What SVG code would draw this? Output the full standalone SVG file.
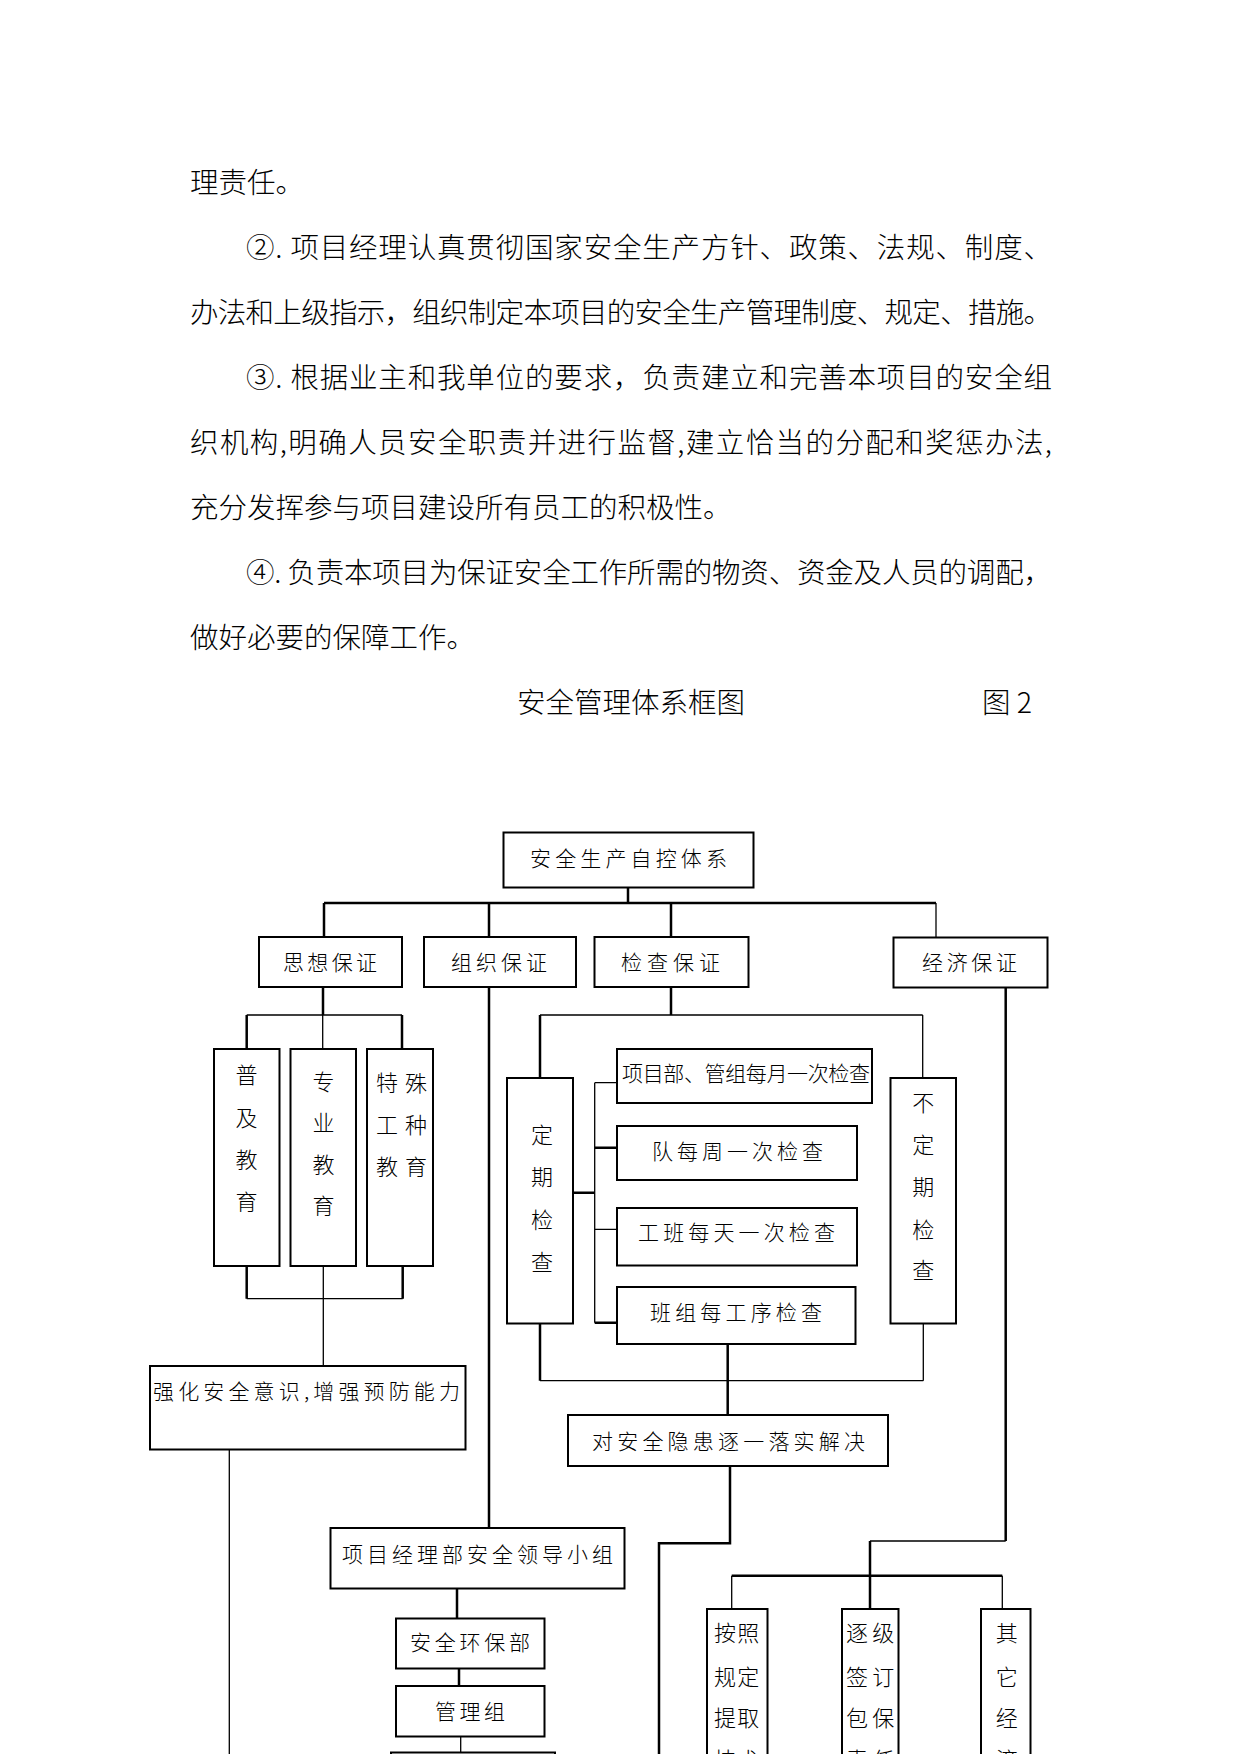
<svg xmlns="http://www.w3.org/2000/svg" width="1241" height="1754" viewBox="0 0 1241 1754">
<style>
text{font-family:"Noto Sans CJK SC","Liberation Serif",sans-serif;fill:#000;dominant-baseline:central;font-weight:300}
.p{font-size:28.5px}
.b{font-size:21px}
.v{font-size:22px;text-anchor:middle}
rect{fill:#fff;stroke:#000;stroke-width:2}
.tk{fill:none;stroke:#000;stroke-width:2.5}
.tn{fill:none;stroke:#000;stroke-width:1.3}
</style>
<rect x="0" y="0" width="1241" height="1754" style="fill:#fff;stroke:none"/>
<g id="body-text">
<text class="p" x="190" y="180.5">理责任。</text>
<text class="p" x="246" y="245.5" textLength="806" lengthAdjust="spacing">②. 项目经理认真贯彻国家安全生产方针、政策、法规、制度、</text>
<text class="p" x="190" y="310.5" textLength="862" lengthAdjust="spacing">办法和上级指示，组织制定本项目的安全生产管理制度、规定、措施。</text>
<text class="p" x="246" y="375.5" textLength="806" lengthAdjust="spacing">③. 根据业主和我单位的要求，负责建立和完善本项目的安全组</text>
<text class="p" x="190" y="440.5" textLength="862" lengthAdjust="spacing">织机构,明确人员安全职责并进行监督,建立恰当的分配和奖惩办法,</text>
<text class="p" x="190" y="505.5">充分发挥参与项目建设所有员工的积极性。</text>
<text class="p" x="246" y="570.5" textLength="806" lengthAdjust="spacing">④. 负责本项目为保证安全工作所需的物资、资金及人员的调配，</text>
<text class="p" x="190" y="635.5">做好必要的保障工作。</text>
<text class="p" x="517" y="700.5">安全管理体系框图</text>
<text class="p" x="982" y="700.5">图 2</text>
</g>
<g id="connectors">
<path class="tk" d="M628,887.5V903M324,903H936M324,903V937M489,903V937M671,903V937"/>
<path class="tn" d="M936,903V937.5"/>
<path class="tk" d="M323,987V1015M246.7,1015V1049M402,1015V1049"/>
<path class="tn" d="M246.7,1015H402M322.7,1015V1049"/>
<path class="tk" d="M246.7,1266V1298.7M402.7,1266V1298.7"/>
<path class="tn" d="M246.7,1298.7H402.7M323.3,1266V1366M229.3,1449.5V1754"/>
<path class="tk" d="M489,987V1528"/>
<path class="tk" d="M671,987V1015M540,1015V1078M540,1323.5V1380.7"/>
<path class="tn" d="M540,1015H922.7M922.7,1015V1078M540,1380.7H923.3M923.3,1323.5V1380.7"/>
<path class="tk" d="M573,1192.7H594.7M594.7,1147.7H617M594.7,1322.7H617"/>
<path class="tn" d="M594.7,1082.7V1322.7M594.7,1082.7H617M594.7,1229.3H617"/>
<path class="tk" d="M727.7,1344V1415M730,1466V1543.3H659V1754"/>
<path class="tk" d="M1005.7,987.5V1541M870,1541V1609M731.7,1575.7H1002.3"/>
<path class="tn" d="M1005.7,1541H870M731.7,1575.7V1609M1002.3,1575.7V1609"/>
<path class="tk" d="M457,1588.5V1618.5M459,1668.5V1686"/>
<path class="tn" d="M460.7,1736.5V1753"/>
</g>
<g id="n-top"><rect x="503.5" y="832.5" width="250" height="55"/><text class="b" x="530" y="857" textLength="197" lengthAdjust="spacing">安全生产自控体系</text></g>
<g id="n-sixiang"><rect x="259" y="937" width="143" height="50"/><text class="b" x="283" y="960.5" textLength="94" lengthAdjust="spacing">思想保证</text></g>
<g id="n-zuzhi"><rect x="424" y="937" width="152" height="50"/><text class="b" x="451" y="960.5" textLength="96" lengthAdjust="spacing">组织保证</text></g>
<g id="n-jiancha"><rect x="594.5" y="937" width="154" height="50"/><text class="b" x="621" y="960.5" textLength="99" lengthAdjust="spacing">检查保证</text></g>
<g id="n-jingji"><rect x="893.5" y="937.5" width="154" height="50"/><text class="b" x="922" y="960.5" textLength="95" lengthAdjust="spacing">经济保证</text></g>
<g id="n-puji"><rect x="214" y="1049" width="65.5" height="217"/>
<text class="v" x="246.5" y="1072.5">普</text><text class="v" x="246.5" y="1115.5">及</text><text class="v" x="246.5" y="1157.5">教</text><text class="v" x="246.5" y="1199.5">育</text></g>
<g id="n-zhuanye"><rect x="290.5" y="1049" width="65.5" height="217"/>
<text class="v" x="323.5" y="1079.5">专</text><text class="v" x="323.5" y="1120.5">业</text><text class="v" x="323.5" y="1162.5">教</text><text class="v" x="323.5" y="1203.5">育</text></g>
<g id="n-teshu"><rect x="367" y="1049" width="66" height="217"/>
<text class="v" x="387" y="1080.5">特</text><text class="v" x="416" y="1080.5">殊</text>
<text class="v" x="387" y="1122.5">工</text><text class="v" x="416" y="1122.5">种</text>
<text class="v" x="387" y="1164.5">教</text><text class="v" x="416" y="1164.5">育</text></g>
<g id="n-qianghua"><rect x="150" y="1366" width="315.5" height="83.5"/><text class="b" x="153" y="1389.5" textLength="307" lengthAdjust="spacing">强化安全意识,增强预防能力</text></g>
<g id="n-dingqi"><rect x="507" y="1078" width="66" height="245.5"/>
<text class="v" x="542" y="1132.5">定</text><text class="v" x="542" y="1174.5">期</text><text class="v" x="542" y="1217.5">检</text><text class="v" x="542" y="1259.5">查</text></g>
<g id="n-c1"><rect x="617" y="1049" width="255" height="54"/><text class="b" x="622" y="1071.5" textLength="248" lengthAdjust="spacing">项目部、管组每月一次检查</text></g>
<g id="n-c2"><rect x="617" y="1126" width="240" height="54"/><text class="b" x="652" y="1149.5" textLength="171" lengthAdjust="spacing">队每周一次检查</text></g>
<g id="n-c3"><rect x="617" y="1208" width="240" height="57.5"/><text class="b" x="638" y="1230.5" textLength="197" lengthAdjust="spacing">工班每天一次检查</text></g>
<g id="n-c4"><rect x="617" y="1287" width="238.5" height="57"/><text class="b" x="650" y="1310.5" textLength="172" lengthAdjust="spacing">班组每工序检查</text></g>
<g id="n-budingqi"><rect x="890.5" y="1078" width="65.5" height="245.5"/>
<text class="v" x="923.3" y="1100.5">不</text><text class="v" x="923.3" y="1142.5">定</text><text class="v" x="923.3" y="1184.5">期</text><text class="v" x="923.3" y="1227.5">检</text><text class="v" x="923.3" y="1267.5">查</text></g>
<g id="n-duianquan"><rect x="568" y="1415" width="320" height="51"/><text class="b" x="592" y="1439.5" textLength="273" lengthAdjust="spacing">对安全隐患逐一落实解决</text></g>
<g id="n-xiangmu"><rect x="330.5" y="1528" width="294" height="60.5"/><text class="b" x="342" y="1552.5" textLength="271" lengthAdjust="spacing">项目经理部安全领导小组</text></g>
<g id="n-huanbao"><rect x="396" y="1618.5" width="148.5" height="50"/><text class="b" x="410" y="1641" textLength="120" lengthAdjust="spacing">安全环保部</text></g>
<g id="n-guanli"><rect x="396" y="1686" width="148.5" height="50.5"/><text class="b" x="435" y="1709.5" textLength="70" lengthAdjust="spacing">管理组</text></g>
<g id="n-cut"><rect x="391" y="1752.5" width="164" height="60"/></g>
<g id="n-anzhao"><rect x="707" y="1609" width="60.5" height="200"/>
<text class="v" x="725" y="1630.5">按</text><text class="v" x="748.3" y="1630.5">照</text>
<text class="v" x="725" y="1674.5">规</text><text class="v" x="748.3" y="1674.5">定</text>
<text class="v" x="725" y="1715.5">提</text><text class="v" x="748.3" y="1715.5">取</text>
<text class="v" x="725" y="1758">技</text><text class="v" x="748.3" y="1758">术</text></g>
<g id="n-zhuji"><rect x="842" y="1609" width="56.5" height="200"/>
<text class="v" x="857" y="1630.5">逐</text><text class="v" x="883.3" y="1630.5">级</text>
<text class="v" x="857" y="1674.5">签</text><text class="v" x="883.3" y="1674.5">订</text>
<text class="v" x="857" y="1715.5">包</text><text class="v" x="883.3" y="1715.5">保</text>
<text class="v" x="857" y="1758">责</text><text class="v" x="883.3" y="1758">任</text></g>
<g id="n-qita"><rect x="981" y="1609" width="49.5" height="200"/>
<text class="v" x="1006.7" y="1630.5">其</text><text class="v" x="1006.7" y="1674.5">它</text><text class="v" x="1006.7" y="1715.5">经</text><text class="v" x="1006.7" y="1758">济</text></g>
</svg>
